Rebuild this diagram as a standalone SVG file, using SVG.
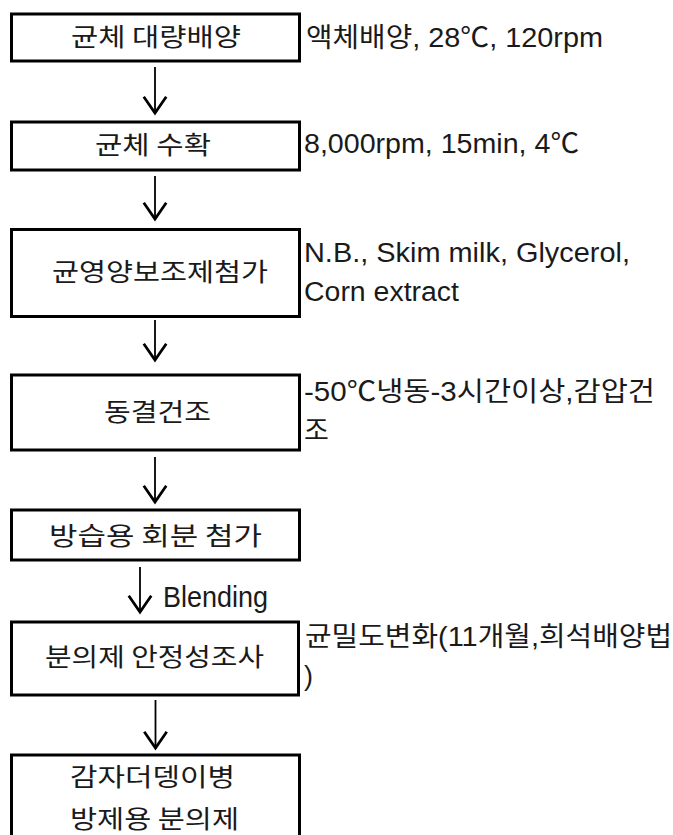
<svg xmlns="http://www.w3.org/2000/svg" width="673" height="835" viewBox="0 0 673 835">
<style>
  .box { fill: #ffffff; stroke: #000000; stroke-width: 3; }
  .lbl { font-family: "Noto Sans CJK KR", "Liberation Sans", sans-serif; font-size: 25px; fill: #1a1a1a; }
  .note { font-family: "Liberation Sans", "Noto Sans CJK KR", sans-serif; font-size: 27px; fill: #1a1a1a; }
  .conn { stroke: #000000; stroke-width: 1.8; fill: none; }
</style>
<defs>
  <marker id="vhead" markerUnits="userSpaceOnUse" markerWidth="30" markerHeight="30" refX="0" refY="0" viewBox="-16 -12 20 24" orient="auto">
    <path d="M-13,-9 L0,0 L-13,9" fill="none" stroke="#000000" stroke-width="2.2"/>
  </marker>
</defs>
<rect width="673" height="835" fill="#ffffff"/>

<g id="connectors">
  <line class="conn" x1="155" y1="67" x2="155" y2="113" marker-end="url(#vhead)"/>
  <line class="conn" x1="155" y1="176" x2="155" y2="219" marker-end="url(#vhead)"/>
  <line class="conn" x1="155" y1="320" x2="155" y2="360" marker-end="url(#vhead)"/>
  <line class="conn" x1="155" y1="457" x2="155" y2="502" marker-end="url(#vhead)"/>
  <line class="conn" x1="140" y1="567" x2="140" y2="612" marker-end="url(#vhead)"/>
  <text class="note" x="163" y="606.5" style="font-size:30px" textLength="105" lengthAdjust="spacingAndGlyphs">Blending</text>
  <line class="conn" x1="155.5" y1="700" x2="155.5" y2="748" marker-end="url(#vhead)"/>
</g>

<g id="node1">
  <rect class="box" x="11.5" y="14" width="288" height="47"/>
  <text class="lbl" x="71" y="46" textLength="170" lengthAdjust="spacingAndGlyphs">균체 대량배양</text>
  <text class="note" x="306" y="47" textLength="297" lengthAdjust="spacingAndGlyphs">액체배양, 28℃, 120rpm</text>
</g>

<g id="node2">
  <rect class="box" x="11.5" y="122" width="288" height="48"/>
  <text class="lbl" x="95" y="154" textLength="116" lengthAdjust="spacingAndGlyphs">균체 수확</text>
  <text class="note" x="304" y="153" textLength="275" lengthAdjust="spacingAndGlyphs">8,000rpm, 15min, 4℃</text>
</g>

<g id="node3">
  <rect class="box" x="11.5" y="229.5" width="288" height="87"/>
  <text class="lbl" x="52" y="281" textLength="216" lengthAdjust="spacingAndGlyphs">균영양보조제첨가</text>
  <text class="note" x="304" y="262" textLength="326" lengthAdjust="spacingAndGlyphs">N.B., Skim milk, Glycerol,</text>
  <text class="note" x="304" y="301" textLength="155" lengthAdjust="spacingAndGlyphs">Corn extract</text>
</g>

<g id="node4">
  <rect class="box" x="11.5" y="375" width="288" height="75"/>
  <text class="lbl" x="104" y="421" textLength="107" lengthAdjust="spacingAndGlyphs">동결건조</text>
  <text class="note" x="304" y="401" textLength="351" lengthAdjust="spacingAndGlyphs">-50℃냉동-3시간이상,감압건</text>
  <text class="note" x="304" y="440">조</text>
</g>

<g id="node5">
  <rect class="box" x="11.5" y="510" width="288" height="50"/>
  <text class="lbl" x="49" y="545" textLength="213" lengthAdjust="spacingAndGlyphs">방습용 회분 첨가</text>
</g>

<g id="node6">
  <rect class="box" x="11.5" y="622" width="287" height="73"/>
  <text class="lbl" x="45" y="666" textLength="219" lengthAdjust="spacingAndGlyphs">분의제 안정성조사</text>
  <text class="note" x="305" y="646" textLength="367" lengthAdjust="spacingAndGlyphs">균밀도변화(11개월,희석배양법</text>
  <text class="note" x="304" y="684.5">)</text>
</g>

<g id="node7">
  <rect class="box" x="11.5" y="755" width="288" height="100"/>
  <text class="lbl" x="70" y="786" textLength="165" lengthAdjust="spacingAndGlyphs">감자더뎅이병</text>
  <text class="lbl" x="70" y="828" textLength="169" lengthAdjust="spacingAndGlyphs">방제용 분의제</text>
</g>
</svg>
